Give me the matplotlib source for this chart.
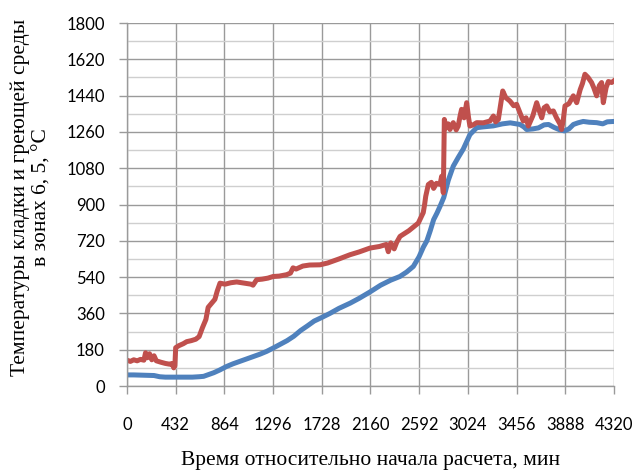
import matplotlib
matplotlib.use('Agg')
import matplotlib.pyplot as plt
from matplotlib.ticker import MultipleLocator

# температура греющей среды (красная) и кладки (синяя)
blue_t = [0, 60, 120, 180, 240, 290, 340, 400, 460, 520, 580, 640, 680, 720, 770,
          825, 880, 940, 1000, 1060, 1120, 1180, 1240, 1296, 1360, 1420, 1480, 1540,
          1600, 1660, 1728, 1800, 1880, 1980, 2060, 2160, 2250, 2340, 2420, 2480,
          2540, 2590, 2630, 2660, 2690, 2720, 2750, 2780, 2810, 2850, 2894, 2940,
          2983, 3042, 3102, 3160, 3250, 3330, 3400, 3486, 3520, 3545, 3600, 3650,
          3700, 3740, 3790, 3840, 3880, 3920, 3960, 4000, 4047, 4100, 4166, 4220,
          4260, 4320]
blue_v = [55, 55, 54, 53, 52, 46, 44, 44, 44, 44, 44, 46, 48, 56, 66,
          80, 96, 110, 122, 134, 146, 158, 172, 188, 207, 225, 247, 275,
          298, 322, 340, 360, 385, 411, 435, 468, 500, 525, 543, 565,
          593, 640, 690, 720, 770, 825, 858, 895, 935, 1020, 1090, 1135,
          1175, 1247, 1281, 1285, 1290, 1300, 1305, 1297, 1285, 1272, 1275, 1280,
          1295, 1297, 1282, 1270, 1265, 1275, 1297, 1305, 1312, 1308, 1306, 1300,
          1310, 1312]

red_t = [0, 30, 60, 90, 120, 150, 165, 180, 200, 220, 240, 260, 300, 340, 380, 400,
         415, 425, 432, 460, 500, 530, 570, 610, 640, 670, 700, 720, 750, 780, 800,
         825, 870, 920, 973, 1040, 1100, 1118, 1150, 1200, 1250, 1296, 1350, 1416,
         1450, 1473, 1500, 1560, 1620, 1712, 1780, 1880, 1978, 2060, 2155, 2240,
         2300, 2318, 2340, 2370, 2392, 2422, 2500, 2584, 2628, 2640, 2650, 2673,
         2700, 2720, 2745, 2777, 2791, 2806, 2815, 2830, 2850, 2865, 2894, 2920,
         2938, 2955, 2968, 2990, 3013, 3030, 3042, 3070, 3102, 3160, 3220, 3250,
         3270, 3294, 3333, 3360, 3397, 3430, 3456, 3490, 3515, 3540, 3560, 3600,
         3634, 3660, 3679, 3700, 3723, 3750, 3782, 3810, 3840, 3855, 3870, 3885,
         3920, 3959, 3989, 4020, 4040, 4062, 4090, 4121, 4140, 4166, 4190, 4210,
         4225, 4250, 4270, 4299, 4320]
red_v = [128, 122, 130, 125, 132, 128, 165, 140, 160, 130, 150, 125, 118, 112, 108, 112,
         90, 100, 190, 200, 210, 220, 225, 232, 245, 290, 330, 390, 410, 430, 470,
         510, 505, 512, 516, 510, 505, 500, 527, 530, 535, 543, 545, 552,
         560, 586, 580, 595, 600, 601, 610, 630, 651, 665, 684, 692,
         702, 666, 710, 680, 712, 742, 770, 808, 860, 900, 941, 999,
         1010, 980, 1005, 1000, 1040, 958, 1322, 1280, 1300, 1272, 1306, 1270,
         1289, 1340, 1372, 1330, 1405, 1330, 1289, 1295, 1306, 1305, 1314, 1339,
         1310, 1322, 1463, 1430, 1413, 1390, 1397, 1350, 1314, 1330, 1289, 1340,
         1405, 1360, 1330, 1380, 1389, 1360, 1364, 1330, 1300, 1272, 1320, 1389,
         1400, 1439, 1405, 1470, 1500, 1546, 1530, 1505, 1480, 1439, 1490, 1505,
         1405, 1480, 1510, 1505, 1514]

x_ticks = [0, 432, 864, 1296, 1728, 2160, 2592, 3024, 3456, 3888, 4320]

fig = plt.figure(figsize=(6.33, 4.70), dpi=100)
ax = fig.add_axes([0.2006, 0.1787, 0.7694, 0.7723])

ax.plot(blue_t, blue_v, color='#4F81BD', lw=3.6, solid_joinstyle='round')
ax.plot(red_t, red_v, color='#C0504D', lw=3.6, solid_joinstyle='round')

ax.set_xlim(0, 4320)
ax.set_ylim(0, 1800)
ax.set_xticks(x_ticks)
ax.yaxis.set_major_locator(MultipleLocator(180))
ax.yaxis.set_minor_locator(MultipleLocator(90))

ax.grid(which='major', color='#9a9a9a', lw=1.0)
ax.grid(which='minor', axis='y', color='#cfcfcf', lw=1.0)
ax.set_axisbelow(True)

for s in ['top', 'right']:
    ax.spines[s].set_visible(False)
for s in ['left', 'bottom']:
    ax.spines[s].set_color('#9a9a9a')
    ax.spines[s].set_linewidth(1.0)

ax.tick_params(which='major', length=6, width=1.0, color='#9a9a9a',
               labelsize=12, labelcolor='black')
ax.tick_params(axis='x', pad=16)
ax.tick_params(axis='y', pad=10)
ax.tick_params(which='minor', length=0)
for lab in ax.get_xticklabels() + ax.get_yticklabels():
    lab.set_family('Lato')

ax.set_xlabel('Время относительно начала расчета, мин', family='Liberation Serif',
              fontsize=15.5, va='center')
ax.xaxis.set_label_coords(0.5, -0.204)
ax.set_ylabel('Температуры кладки и греющей среды\nв зонах 6, 5, °C',
              family='Liberation Serif', fontsize=15.5, linespacing=1.25, va='center')
ax.yaxis.set_label_coords(-0.197, 0.52)

fig.savefig('out.png', dpi=100)
